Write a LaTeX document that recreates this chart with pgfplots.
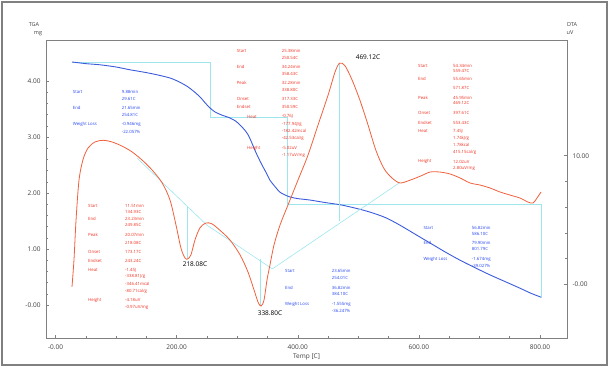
\documentclass[border=0pt]{standalone}
\usepackage{fontspec}
\setmainfont{Open Sans}
\usepackage{pgfplots}
\pgfplotsset{compat=1.18}
\definecolor{tgablue}{HTML}{3B5BDB}
\definecolor{dtared}{HTML}{F0603C}
\definecolor{cyanl}{HTML}{9EE6EE}
\definecolor{txtblue}{HTML}{2244EE}
\definecolor{txtred}{HTML}{F03020}
\definecolor{axgray}{HTML}{808080}
\newcommand\tf{\fontsize{4.3}{5}\selectfont}
\begin{document}
\begin{tikzpicture}
\useasboundingbox (0,0) rectangle (609pt,-367pt);
\draw[axgray, line width=1.4pt] (2pt,-2pt) rectangle (607pt,-365pt);
\pgfplotsset{every axis/.append style={
  at={(46pt,-338pt)}, anchor=south west, scale only axis,
  width=521pt, height=298pt, xmin=-15.7, xmax=844.6,
  tick align=inside, major tick length=3pt, minor tick length=1.8pt,
  tick style={axgray, line width=0.5pt},
  axis line style={axgray, line width=0.8pt},
  ticklabel style={font=\fontsize{6.5}{7}\selectfont, text=black!75},
  clip=false}}
\begin{axis}[
  ymin=-0.589, ymax=4.732,
  xtick={0,200,400,600,800}, xticklabels={-0.00,200.00,400.00,600.00,800.00},
  minor x tick num=3, xtick pos=bottom,
  xticklabel style={yshift=-3pt},
  ytick={0,1,2,3,4}, yticklabels={-0.00,1.00,2.00,3.00,4.00},
  minor y tick num=4, ytick pos=left,
  yticklabel style={xshift=-2pt},
  xlabel={Temp [C]}, xlabel style={font=\fontsize{6.5}{7}\selectfont, text=black!75, yshift=2pt},
  ]
% TGA step construction lines
\addplot[cyanl, line width=0.6pt] coordinates {(27,4.34) (255,4.34) (255,3.36) (382,3.36) (382,1.80) (801.8,1.80) (801.8,0.13)};
% TGA curve
\addplot[tgablue, line width=0.9pt, smooth] coordinates {
(27.2,4.34) (50,4.31) (73,4.29) (100,4.25) (123,4.20) (150,4.15) (172,4.10) (190,4.05) (205,3.98)
(218,3.90) (230,3.80) (240,3.70) (247,3.61) (255,3.52) (263,3.45) (275,3.39) (288,3.34) (298,3.28)
(305,3.21) (312,3.13) (318,3.04) (324,2.90) (329,2.77) (335,2.63) (341,2.50) (348,2.36) (354,2.23)
(362,2.12) (370,2.02) (378,1.97) (387,1.93) (400,1.90) (420,1.875) (445,1.83) (470,1.79)
(495,1.73) (519,1.66) (545,1.56) (568,1.43) (593,1.27) (618,1.11) (643,0.95) (668,0.80)
(692,0.67) (717,0.54) (742,0.42) (767,0.30) (785,0.21) (801.7,0.14)};
\end{axis}
\begin{axis}[
  ymin=-4.176, ymax=19.0,
  axis x line=none, axis y line*=right,
  ytick={0,10}, yticklabels={-0.00,10.00}, minor y tick num=4,
  yticklabel style={xshift=2pt},
  ]
% DTA baselines
\addplot[cyanl, line width=0.6pt] coordinates {(135,9.8) (250,4.6)};
\addplot[cyanl, line width=0.6pt] coordinates {(218.08,6.0) (218.08,1.97)};
\addplot[cyanl, line width=0.6pt] coordinates {(250,4.6) (358,1.2)};
\addplot[cyanl, line width=0.6pt] coordinates {(338.8,2.0) (338.8,-1.69)};
\addplot[cyanl, line width=0.6pt] coordinates {(358,1.2) (568,7.9)};
\addplot[cyanl, line width=0.6pt] coordinates {(469.12,4.9) (469.12,17.25)};
% DTA curve
\addplot[dtared, line width=0.8pt, smooth] coordinates {
(27.2,-0.2) (30.5,1.9) (33.9,5.0) (38.8,8.1) (45.4,9.7) (53.7,10.6) (65.2,11.07) (78.4,11.2)
(93.3,11.07) (109.8,10.75) (126.3,10.3) (142.8,9.67) (159.3,8.9) (175.9,7.9) (189.1,6.55)
(199,4.6) (207.2,2.8) (213.8,2.05) (218.1,1.97) (223.7,2.3) (230.3,3.45) (238.6,4.4) (248.5,4.77)
(258.4,4.7) (271.6,4.2) (288,3.45) (304.6,2.3) (317.8,0.96) (327.8,-0.44) (334.4,-1.38)
(339.3,-1.69) (344.3,-1.22) (349.2,0.33) (354.1,1.5) (360.8,3.06) (370.7,4.61) (383.9,6.17)
(400.4,8.11) (416.9,10.05) (433.5,12.39) (450,14.7) (461.5,16.5) (469.1,17.2) (478,17.0)
(489.6,15.9) (502.8,14.3) (516,12.4) (529.2,10.4) (542.4,9.0) (555.6,8.27) (568.9,7.88)
(585.4,8.1) (601.9,8.4) (618.4,8.73) (634.9,8.73) (651.4,8.58) (668,8.27) (684.5,7.88)
(701,7.72) (717.5,7.49) (734,7.18) (750.5,6.94) (767,6.71) (780,6.4) (788.5,6.32) (795,6.71)
(801.7,7.18)};
\end{axis}
% axis unit labels
\node[font=\fontsize{5.5}{6}\selectfont, text=black!75] at (34pt,-25pt) {TGA};
\node[font=\fontsize{5.5}{6}\selectfont, text=black!75] at (38pt,-34pt) {mg};
\node[font=\fontsize{5.5}{6}\selectfont, text=black!75] at (572pt,-25pt) {DTA};
\node[font=\fontsize{5.5}{6}\selectfont, text=black!75] at (570pt,-33pt) {uV};
% peak labels
\node[font=\fontsize{6.5}{7}\selectfont] at (195pt,-264pt) {218.08C};
\node[font=\fontsize{6.5}{7}\selectfont] at (270pt,-313pt) {338.80C};
\node[font=\fontsize{6.5}{7}\selectfont] at (368pt,-57pt) {469.12C};
% Block A (blue)
\begin{scope}[every node/.style={anchor=west, inner sep=0pt, font=\tf, text=txtblue}]
\node at (72.7pt,-92.3pt) {Start}; \node at (121.7pt,-92.3pt) {9.88min};
\node at (121.7pt,-98.7pt) {29.61C};
\node at (72.7pt,-108pt) {End}; \node at (121.7pt,-108pt) {21.65min};
\node at (121.7pt,-114.7pt) {254.81C};
\node at (72.7pt,-124pt) {Weight Loss}; \node at (121.7pt,-124pt) {-0.946mg};
\node at (121.7pt,-132pt) {-22.057\%};
% Block E
\node at (285pt,-271pt) {Start}; \node at (331.7pt,-271pt) {23.65min};
\node at (331.7pt,-278.3pt) {254.01C};
\node at (285pt,-288.3pt) {End}; \node at (331.7pt,-288.3pt) {36.82min};
\node at (331.7pt,-294.3pt) {384.10C};
\node at (285pt,-304pt) {Weight Loss}; \node at (331.7pt,-304pt) {-1.555mg};
\node at (331.7pt,-311pt) {-36.247\%};
% Block F
\node at (423.3pt,-227.7pt) {Start}; \node at (471.7pt,-227.7pt) {56.82min};
\node at (471.7pt,-234.3pt) {586.10C};
\node at (423.3pt,-243.3pt) {End}; \node at (471.7pt,-243.3pt) {79.90min};
\node at (471.7pt,-249.3pt) {801.79C};
\node at (423.3pt,-259pt) {Weight Loss}; \node at (471.7pt,-259pt) {-1.674mg};
\node at (471.7pt,-265.7pt) {-39.027\%};
\end{scope}
\begin{scope}[every node/.style={anchor=west, inner sep=0pt, font=\tf, text=txtred}]
% Block B
\node at (236.7pt,-50.7pt) {Start}; \node at (281.7pt,-50.7pt) {25.38min};
\node at (281.7pt,-57.7pt) {250.54C};
\node at (236.7pt,-66.7pt) {End}; \node at (281.7pt,-66.7pt) {34.24min};
\node at (281.7pt,-73.7pt) {358.43C};
\node at (236.7pt,-82.7pt) {Peak}; \node at (281.7pt,-82.7pt) {32.28min};
\node at (281.7pt,-90pt) {338.80C};
\node at (236.7pt,-99.3pt) {Onset}; \node at (281.7pt,-99.3pt) {317.33C};
\node at (236.7pt,-107pt) {Endset}; \node at (281.7pt,-107pt) {350.59C};
\node at (247pt,-116.7pt) {Heat}; \node at (281.7pt,-116.7pt) {-0.76J};
\node at (281.7pt,-124pt) {-177.94J/g};
\node at (281.7pt,-130.7pt) {-182.42mcal};
\node at (281.7pt,-138.3pt) {-42.53cal/g};
\node at (247pt,-148.3pt) {Height}; \node at (281.7pt,-148.3pt) {-5.02uV};
\node at (281.7pt,-155pt) {-1.17uV/mg};
% Block C
\node at (418pt,-65.7pt) {Start}; \node at (453pt,-65.7pt) {54.34min};
\node at (453pt,-71pt) {559.47C};
\node at (418pt,-79pt) {End}; \node at (453pt,-79pt) {55.65min};
\node at (453pt,-88.3pt) {571.87C};
\node at (418pt,-97.7pt) {Peak}; \node at (453pt,-97.7pt) {45.95min};
\node at (453pt,-103.3pt) {469.12C};
\node at (418pt,-113.3pt) {Onset}; \node at (453pt,-113.3pt) {397.61C};
\node at (418pt,-122.7pt) {Endset}; \node at (453pt,-122.7pt) {553.43C};
\node at (418pt,-131pt) {Heat}; \node at (453pt,-131pt) {7.45J};
\node at (453pt,-138.3pt) {1.74kJ/g};
\node at (453pt,-145pt) {1.78kcal};
\node at (453pt,-152.7pt) {415.15cal/g};
\node at (418pt,-161.7pt) {Height}; \node at (453pt,-161.7pt) {12.02uV};
\node at (453pt,-168.3pt) {2.80uV/mg};
% Block D
\node at (88pt,-205.5pt) {Start}; \node at (125pt,-205.5pt) {11.51min};
\node at (125pt,-212.3pt) {134.93C};
\node at (88pt,-218.5pt) {End}; \node at (125pt,-218.5pt) {23.23min};
\node at (125pt,-225.3pt) {249.85C};
\node at (88pt,-235.3pt) {Peak}; \node at (125pt,-235.3pt) {20.07min};
\node at (125pt,-242.7pt) {218.08C};
\node at (88pt,-252.3pt) {Onset}; \node at (125pt,-252.3pt) {173.17C};
\node at (88pt,-260.7pt) {Endset}; \node at (125pt,-260.7pt) {243.24C};
\node at (88pt,-270pt) {Heat}; \node at (125pt,-270pt) {-1.45J};
\node at (125pt,-276.7pt) {-338.81J/g};
\node at (125pt,-284pt) {-346.41mcal};
\node at (125pt,-291.7pt) {-80.71cal/g};
\node at (88pt,-300pt) {Height}; \node at (125pt,-300pt) {-4.18uV};
\node at (125pt,-307.7pt) {-0.97uV/mg};
\end{scope}
\end{tikzpicture}
\end{document}
